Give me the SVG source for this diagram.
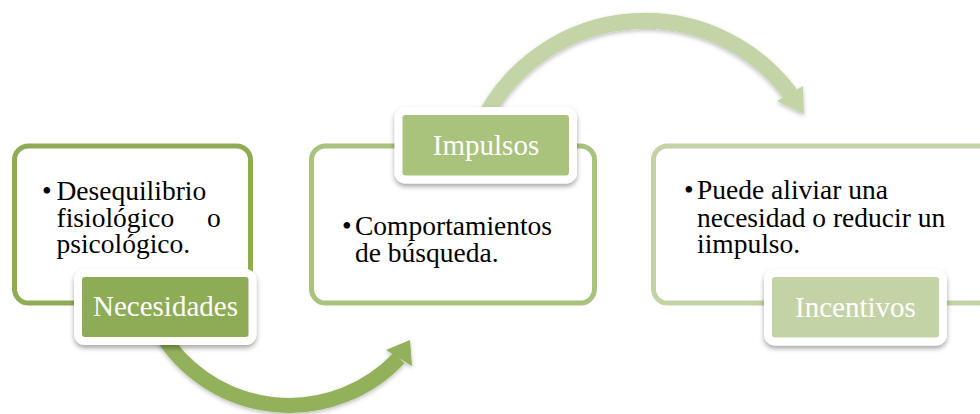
<svg xmlns="http://www.w3.org/2000/svg" width="980" height="414" viewBox="0 0 980 414">
<defs>
<filter id="sh" x="-20%" y="-20%" width="140%" height="160%">
<feDropShadow dx="0" dy="3" stdDeviation="2.5" flood-color="#000" flood-opacity="0.35"/>
</filter>
<filter id="ash" x="-20%" y="-20%" width="140%" height="140%">
<feDropShadow dx="0" dy="2" stdDeviation="2" flood-color="#000" flood-opacity="0.25"/>
</filter>
</defs>
<style>
.box{fill:#fff;stroke-width:5}
.lbl{stroke:#fff;stroke-width:8}
.body{font-family:"Liberation Serif","Times New Roman",serif;font-size:27.5px;fill:#000}
.ltxt{font-family:"Liberation Serif","Times New Roman",serif;font-size:29px;fill:#fff;text-anchor:middle}
</style>
<rect width="980" height="414" fill="#fff"/>
<g id="connectors">
<g filter="url(#ash)">
<path d="M 159 330 A 150.5 150.5 0 0 0 399 358" fill="none" stroke="#93B15A" stroke-width="15"/>
<polygon points="386,350 410,340 412,366" fill="#93B15A"/>
</g>
<g filter="url(#ash)">
<path d="M 486 115 A 181.3 181.3 0 0 1 790.5 94" fill="none" stroke="#C3D4A6" stroke-width="16"/>
<polygon points="777,101 803,86 804,114" fill="#C3D4A6"/>
</g>
</g>
<g id="node-necesidades">
<rect class="box" x="14.5" y="146" width="236" height="157" rx="14" stroke="#8FAC55"/>
<text class="body" x="42" y="199.5">•</text>
<text class="body" x="56.5" y="199.5">Desequilibrio</text>
<text class="body" x="56.5" y="226.5">fisiológico</text>
<text class="body" x="207" y="226.5">o</text>
<text class="body" x="56.5" y="253">psicológico.</text>
<rect class="lbl" x="78" y="273" width="174.5" height="68" rx="7" fill="#8EAB54" filter="url(#sh)"/>
<text class="ltxt" x="165.5" y="316">Necesidades</text>
</g>
<g id="node-impulsos">
<rect class="box" x="311.5" y="146" width="283" height="157" rx="14" stroke="#A9C27D"/>
<text class="body" x="342" y="235">•</text>
<text class="body" x="355" y="235">Comportamientos</text>
<text class="body" x="355" y="261.7">de búsqueda.</text>
<rect class="lbl" x="398.5" y="111" width="174.5" height="68.5" rx="7" fill="#A9C27B" filter="url(#sh)"/>
<text class="ltxt" x="486" y="155">Impulsos</text>
</g>
<g id="node-incentivos">
<rect class="box" x="653.5" y="146" width="340" height="157" rx="14" stroke="#C3D3A5"/>
<text class="body" x="684" y="199.3">•</text>
<text class="body" x="697" y="199.3">Puede aliviar una</text>
<text class="body" x="697" y="226.7">necesidad o reducir un</text>
<text class="body" x="697" y="252.7">iimpulso.</text>
<rect class="lbl" x="768" y="273" width="175" height="68.5" rx="7" fill="#C3D3A5" filter="url(#sh)"/>
<text class="ltxt" x="855.5" y="317">Incentivos</text>
</g>
</svg>
